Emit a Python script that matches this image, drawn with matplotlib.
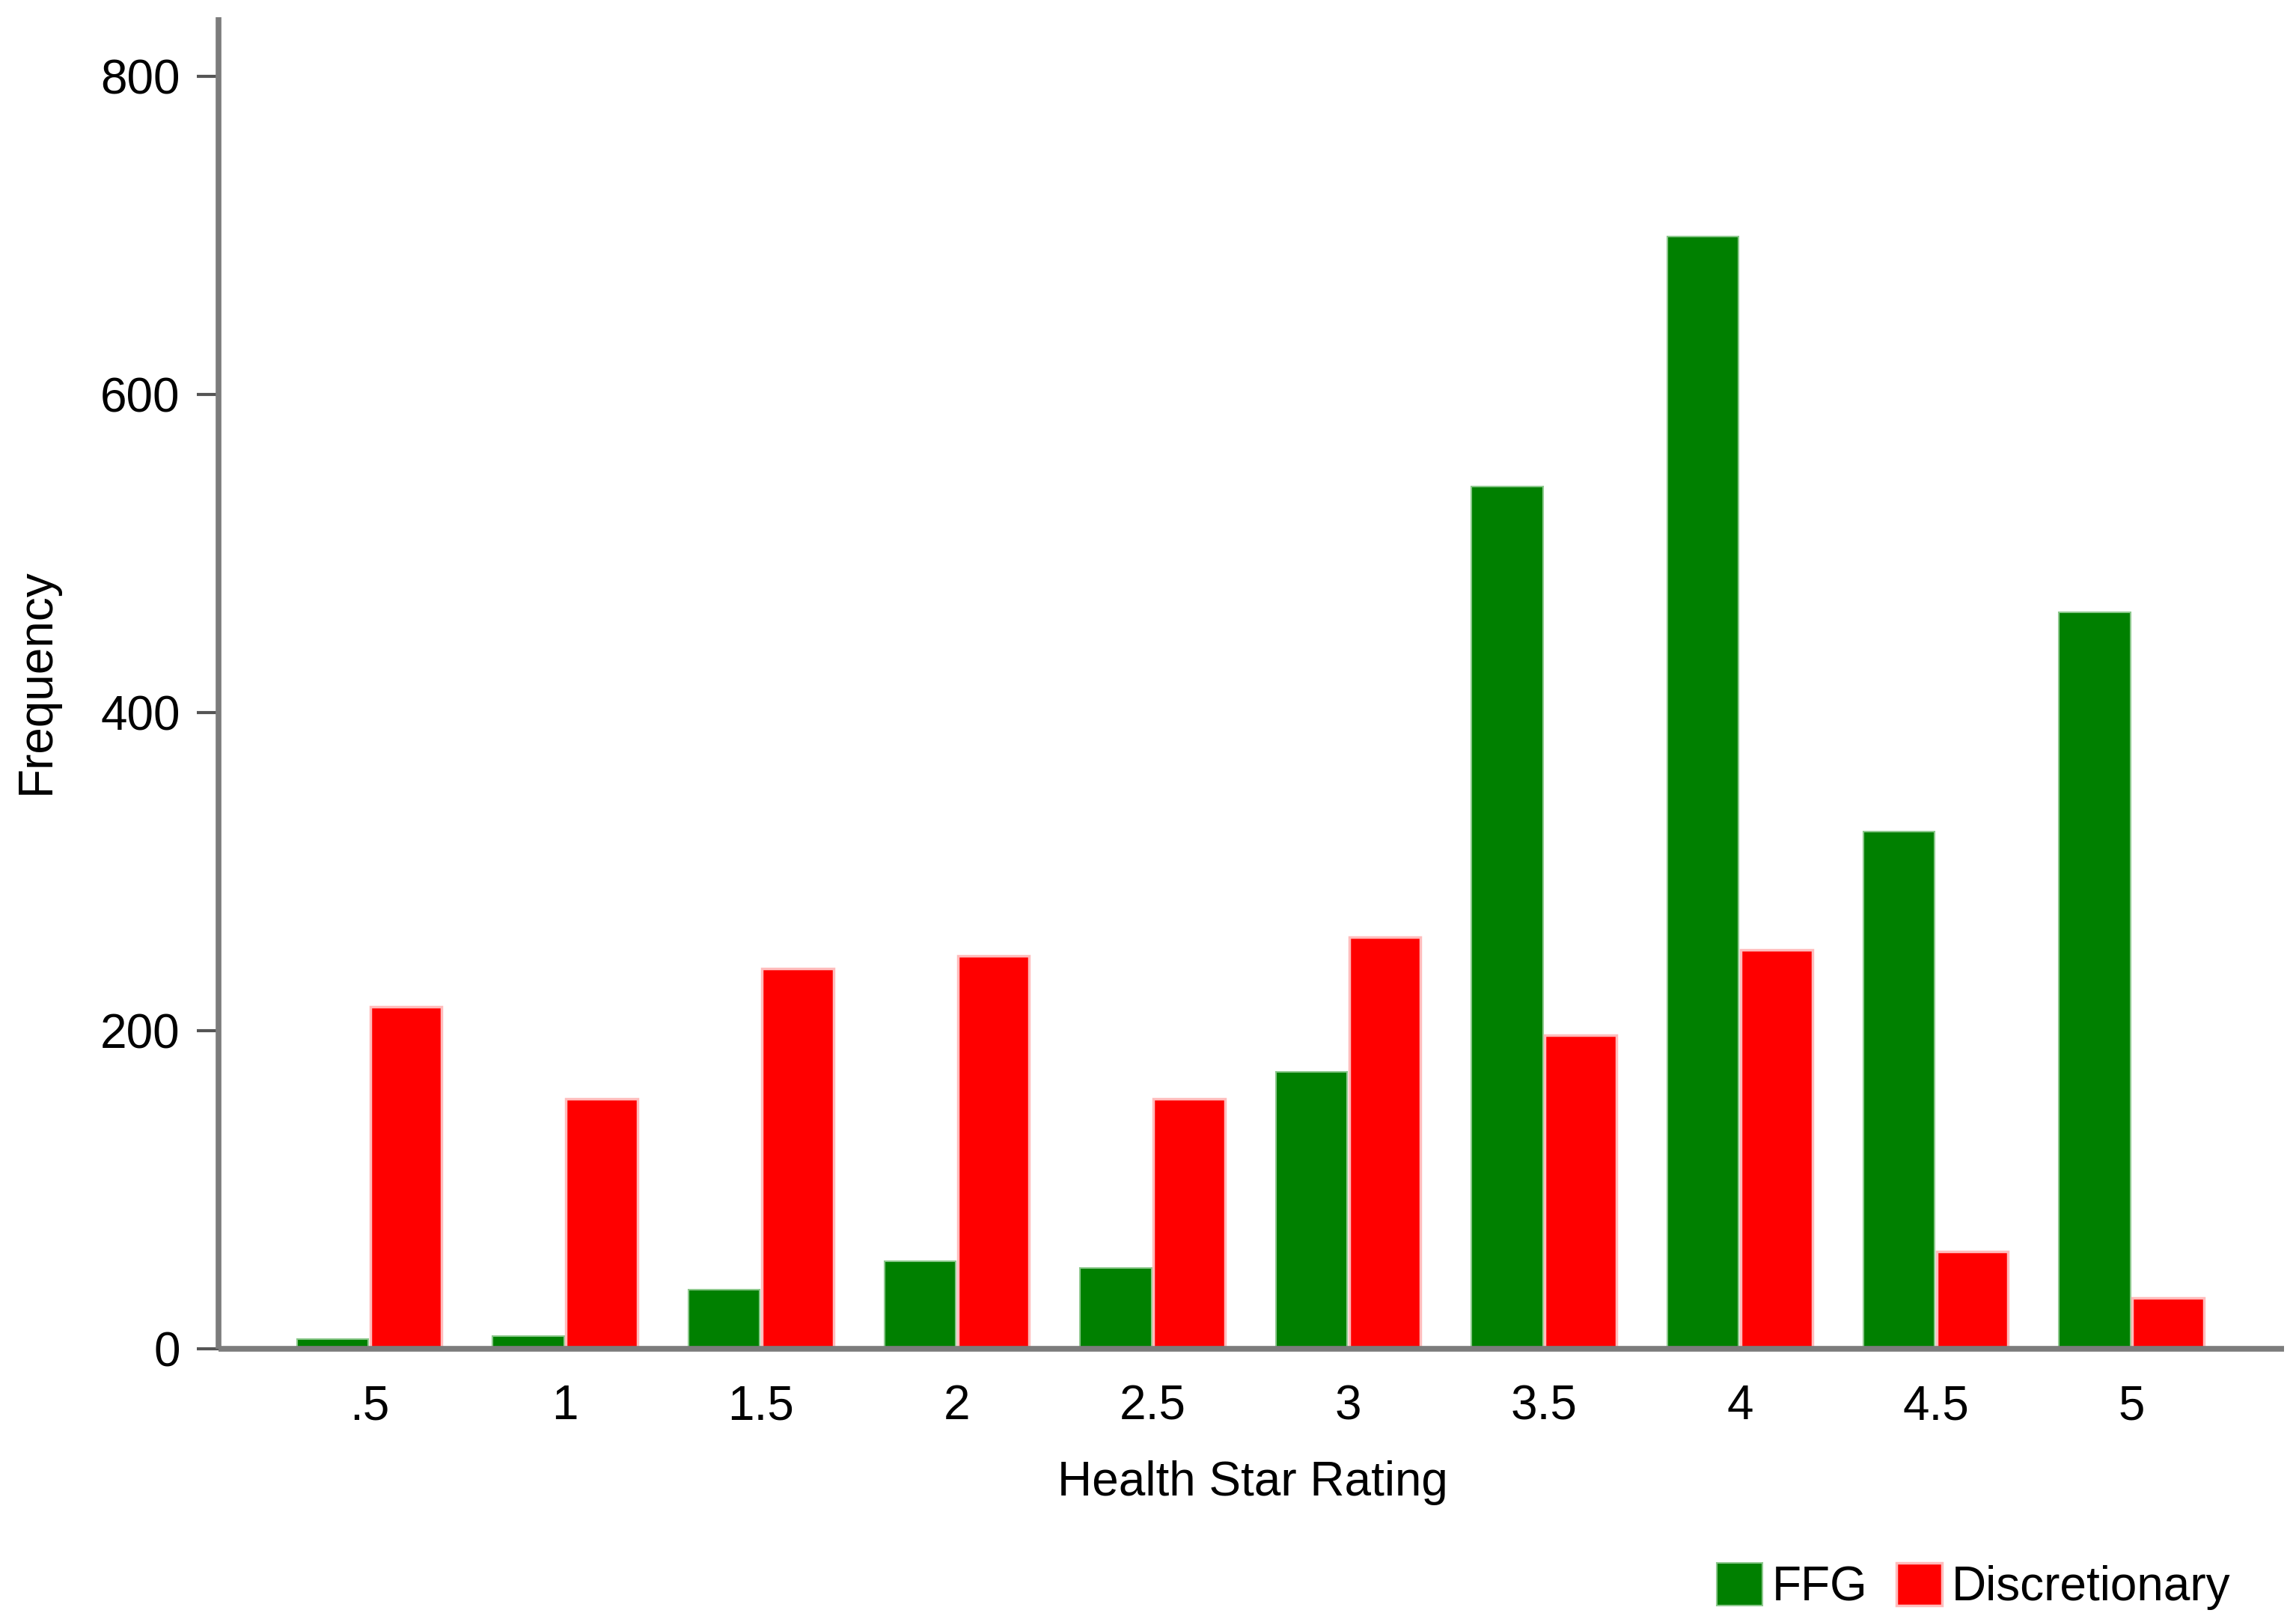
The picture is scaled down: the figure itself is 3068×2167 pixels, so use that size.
import numpy as np
import matplotlib
matplotlib.use("Agg")
import matplotlib.pyplot as plt

plt.rcParams['font.family'] = ['Liberation Sans', 'DejaVu Sans']

ratings = [".5", "1", "1.5", "2", "2.5", "3", "3.5", "4", "4.5", "5"]
ffg = [6, 8, 37, 55, 51, 174, 542, 699, 325, 463]
discretionary = [215, 157, 239, 247, 157, 259, 197, 251, 61, 32]

fig = plt.figure(figsize=(30.68, 21.67), dpi=100)
ax = fig.add_axes([0.0952, 0.1684, 0.8996, 0.821])

x = np.arange(len(ratings))
w = 0.375
ax.bar(x - w / 2, ffg, width=w - 0.01, color='#008000', edgecolor='#8cc88c', linewidth=1.5, label='FFG')
ax.bar(x + w / 2, discretionary, width=w - 0.01, color='#ff0000', edgecolor='#ffbcbc', linewidth=2.5,
       label='Discretionary')

ax.set_xlim(-0.77, 9.78)
ax.set_ylim(0, 837)
ax.set_xticks(x)
ax.set_xticklabels(ratings)
ax.set_yticks([0, 200, 400, 600, 800])

for s in ['top', 'right']:
    ax.spines[s].set_visible(False)
for s in ['left', 'bottom']:
    ax.spines[s].set_color('#7c7c7c')
    ax.spines[s].set_linewidth(5.5)
    ax.spines[s].set_capstyle('butt')

ax.tick_params(axis='x', length=0, pad=34, labelsize=46)
ax.tick_params(axis='y', length=21, width=3, color='#555555', pad=16, labelsize=46)

fig.text(0.5007 * 0.8996 + 0.0952, 1 - 1951 / 2167, 'Health Star Rating', ha='center', va='top', fontsize=46)
fig.text(49 / 3068, 1 - 910 / 2167, 'Frequency', rotation=90, ha='center', va='center', fontsize=46)

fig.legend(loc='center right', bbox_to_anchor=(2980 / 3068, 0.022), ncol=2, frameon=False,
           fontsize=46, handlelength=0.95, handleheight=1.0, handletextpad=0.2,
           columnspacing=0.6, borderpad=0, borderaxespad=0)

fig.savefig('out.png', dpi=100)
